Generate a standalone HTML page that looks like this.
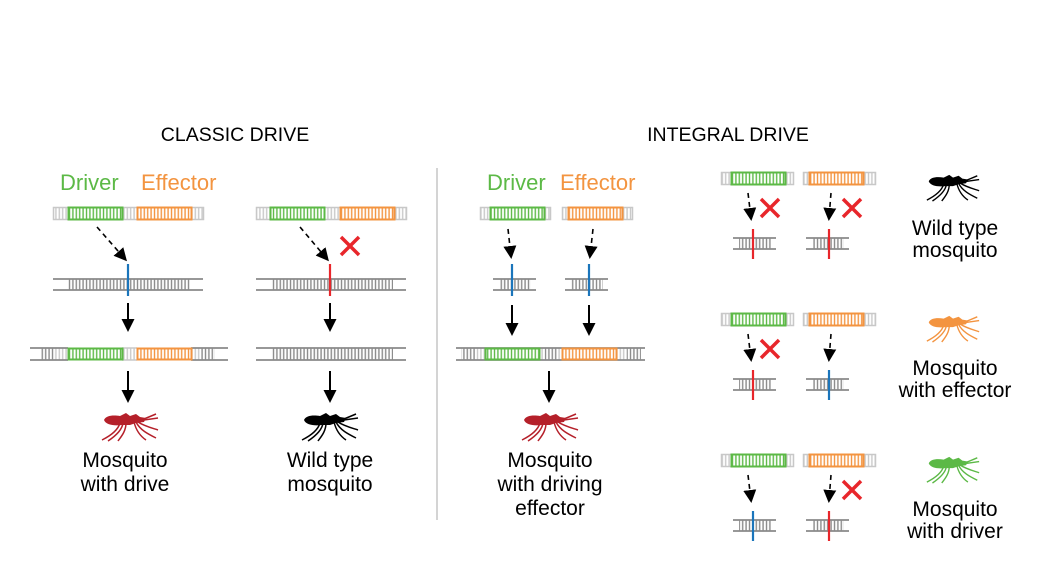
<!DOCTYPE html>
<html><head><meta charset="utf-8"><style>
html,body{margin:0;padding:0;background:#fff}
svg{display:block}
text{font-family:"Liberation Sans",sans-serif}
</style></head><body>
<svg width="1037" height="561" viewBox="0 0 1037 561" xmlns="http://www.w3.org/2000/svg">
<defs>
<pattern id="pd" width="3.4" height="40" patternUnits="userSpaceOnUse"><line x1="1.5" y1="0" x2="1.5" y2="40" stroke="#8a8a8a" stroke-width="1.4"/></pattern>
<pattern id="pl" width="3.4" height="40" patternUnits="userSpaceOnUse"><line x1="1.5" y1="0" x2="1.5" y2="40" stroke="#c8c8c8" stroke-width="1.4"/></pattern>
<pattern id="pg" width="3.4" height="40" patternUnits="userSpaceOnUse"><line x1="1.5" y1="0" x2="1.5" y2="40" stroke="#5cb946" stroke-width="1.4"/></pattern>
<pattern id="po" width="3.4" height="40" patternUnits="userSpaceOnUse"><line x1="1.5" y1="0" x2="1.5" y2="40" stroke="#f39440" stroke-width="1.4"/></pattern>
<marker id="ah2" markerWidth="13" markerHeight="13" refX="10" refY="6.5" orient="auto" markerUnits="userSpaceOnUse"><path d="M0,0 L13,6.5 L0,13 Z" fill="#000"/></marker>
<symbol id="mq" viewBox="0 0 60 32" overflow="visible">
 <path d="M4,10 C6,5 14,5 20,6 L26,3 L30,6 L36,4 L40,7 L46,8 L44,12 L36,13 L30,15 L22,15 C14,16 6,15 4,10 Z"/>
 <g fill="none" stroke="currentColor" stroke-width="1.5">
  <path d="M20,13 C18,20 10,26 2,30"/><path d="M23,13 C22,21 14,27 8,31"/><path d="M26,13 C26,22 20,28 18,31"/>
  <path d="M34,12 C36,20 40,26 46,30"/><path d="M36,12 C40,20 48,24 56,28"/><path d="M38,12 C44,16 52,18 58,20"/>
  <path d="M44,9 L56,4"/><path d="M44,10 L58,8"/>
 </g>
</symbol>
<g id="xm"><path d="M-9,-9 L9,9 M9,-9 L-9,9" stroke="#e8262b" stroke-width="3.5"/></g>
</defs>

<text x="235" y="141" font-size="19.5" text-anchor="middle">CLASSIC DRIVE</text>
<text x="728" y="141" font-size="19.5" text-anchor="middle">INTEGRAL DRIVE</text>
<line x1="437" y1="168" x2="437" y2="520" stroke="#aaa" stroke-width="1"/>

<!-- Classic col 1 -->
<text x="60" y="190" font-size="22" fill="#5cb946">Driver</text>
<text x="141" y="190" font-size="22" fill="#f39440">Effector</text>
<rect x="53.5" y="207.5" width="150" height="12" fill="url(#pl)" stroke="#c8c8c8" stroke-width="1.5"/>
<rect x="68.5" y="207.5" width="54" height="12" fill="#fff"/><rect x="68.5" y="207.5" width="54" height="12" fill="url(#pg)" stroke="#5cb946" stroke-width="2"/>
<rect x="137.5" y="207.5" width="54" height="12" fill="#fff"/><rect x="137.5" y="207.5" width="54" height="12" fill="url(#po)" stroke="#f39440" stroke-width="2"/>
<line x1="97" y1="227" x2="125" y2="259" stroke="#000" stroke-width="1.6" stroke-dasharray="5,4" marker-end="url(#ah2)"/>
<rect x="68" y="279" width="122" height="11" fill="url(#pd)"/>
<line x1="53" y1="279" x2="203" y2="279" stroke="#8a8a8a" stroke-width="1.8"/><line x1="53" y1="290" x2="203" y2="290" stroke="#8a8a8a" stroke-width="1.8"/>
<line x1="128" y1="264" x2="128" y2="296" stroke="#1b75bb" stroke-width="2.2"/>
<line x1="128" y1="303" x2="128" y2="329" stroke="#000" stroke-width="2" marker-end="url(#ah2)"/>
<rect x="40" y="348" width="15" height="12" fill="url(#pd)"/><rect x="55" y="348" width="13" height="12" fill="url(#pl)"/>
<rect x="122" y="348" width="15" height="12" fill="url(#pl)"/><rect x="191" y="348" width="9" height="12" fill="url(#pl)"/><rect x="200" y="348" width="15" height="12" fill="url(#pd)"/>
<line x1="30" y1="348" x2="68" y2="348" stroke="#8a8a8a" stroke-width="1.8"/><line x1="30" y1="360" x2="68" y2="360" stroke="#8a8a8a" stroke-width="1.8"/>
<line x1="191" y1="348" x2="228" y2="348" stroke="#8a8a8a" stroke-width="1.8"/><line x1="191" y1="360" x2="228" y2="360" stroke="#8a8a8a" stroke-width="1.8"/>
<line x1="122" y1="348" x2="137" y2="348" stroke="#c8c8c8" stroke-width="1.5"/><line x1="122" y1="360" x2="137" y2="360" stroke="#c8c8c8" stroke-width="1.5"/>
<rect x="68.5" y="348.5" width="54" height="11" fill="url(#pg)" stroke="#5cb946" stroke-width="2"/>
<rect x="137.5" y="348.5" width="54" height="11" fill="url(#po)" stroke="#f39440" stroke-width="2"/>
<line x1="128" y1="371" x2="128" y2="400" stroke="#000" stroke-width="2" marker-end="url(#ah2)"/>
<use href="#mq" x="100" y="410" width="60" height="32" fill="#b5202a" color="#b5202a"/>
<text x="125" y="467" font-size="21" text-anchor="middle">Mosquito</text>
<text x="125" y="491" font-size="21" text-anchor="middle">with drive</text>

<!-- Classic col 2 -->
<rect x="256.5" y="207.5" width="150" height="12" fill="url(#pl)" stroke="#c8c8c8" stroke-width="1.5"/>
<rect x="270.5" y="207.5" width="54" height="12" fill="#fff"/><rect x="270.5" y="207.5" width="54" height="12" fill="url(#pg)" stroke="#5cb946" stroke-width="2"/>
<rect x="340.5" y="207.5" width="54" height="12" fill="#fff"/><rect x="340.5" y="207.5" width="54" height="12" fill="url(#po)" stroke="#f39440" stroke-width="2"/>
<line x1="300" y1="227" x2="327" y2="259" stroke="#000" stroke-width="1.6" stroke-dasharray="5,4" marker-end="url(#ah2)"/>
<use href="#xm" x="350" y="246"/>
<rect x="271" y="279" width="122" height="11" fill="url(#pd)"/>
<line x1="256" y1="279" x2="406" y2="279" stroke="#8a8a8a" stroke-width="1.8"/><line x1="256" y1="290" x2="406" y2="290" stroke="#8a8a8a" stroke-width="1.8"/>
<line x1="330" y1="264" x2="330" y2="296" stroke="#e8262b" stroke-width="2.2"/>
<line x1="330" y1="303" x2="330" y2="329" stroke="#000" stroke-width="2" marker-end="url(#ah2)"/>
<rect x="271" y="348" width="122" height="12" fill="url(#pd)"/>
<line x1="256" y1="348" x2="406" y2="348" stroke="#8a8a8a" stroke-width="1.8"/><line x1="256" y1="360" x2="406" y2="360" stroke="#8a8a8a" stroke-width="1.8"/>
<line x1="330" y1="371" x2="330" y2="400" stroke="#000" stroke-width="2" marker-end="url(#ah2)"/>
<use href="#mq" x="300" y="410" width="60" height="32" fill="#000" color="#000"/>
<text x="330" y="467" font-size="21" text-anchor="middle">Wild type</text>
<text x="330" y="491" font-size="21" text-anchor="middle">mosquito</text>

<!-- Integral middle -->
<text x="487" y="190" font-size="22" fill="#5cb946">Driver</text>
<text x="560" y="190" font-size="22" fill="#f39440">Effector</text>
<rect x="480.5" y="207.5" width="70" height="12" fill="url(#pl)" stroke="#c8c8c8" stroke-width="1.5"/>
<rect x="490.5" y="207.5" width="54" height="12" fill="#fff"/><rect x="490.5" y="207.5" width="54" height="12" fill="url(#pg)" stroke="#5cb946" stroke-width="2"/>
<rect x="562.5" y="207.5" width="70" height="12" fill="url(#pl)" stroke="#c8c8c8" stroke-width="1.5"/>
<rect x="568.5" y="207.5" width="54" height="12" fill="#fff"/><rect x="568.5" y="207.5" width="54" height="12" fill="url(#po)" stroke="#f39440" stroke-width="2"/>
<line x1="508" y1="229" x2="511" y2="256" stroke="#000" stroke-width="1.6" stroke-dasharray="5,4" marker-end="url(#ah2)"/>
<line x1="593" y1="229" x2="590" y2="256" stroke="#000" stroke-width="1.6" stroke-dasharray="5,4" marker-end="url(#ah2)"/>
<rect x="499" y="279" width="32" height="11" fill="url(#pd)"/>
<line x1="493" y1="279" x2="536" y2="279" stroke="#8a8a8a" stroke-width="1.8"/><line x1="493" y1="290" x2="536" y2="290" stroke="#8a8a8a" stroke-width="1.8"/>
<line x1="512" y1="264" x2="512" y2="296" stroke="#1b75bb" stroke-width="2.2"/>
<rect x="571" y="279" width="32" height="11" fill="url(#pd)"/>
<line x1="565" y1="279" x2="608" y2="279" stroke="#8a8a8a" stroke-width="1.8"/><line x1="565" y1="290" x2="608" y2="290" stroke="#8a8a8a" stroke-width="1.8"/>
<line x1="589" y1="264" x2="589" y2="296" stroke="#1b75bb" stroke-width="2.2"/>
<line x1="512" y1="305" x2="512" y2="333" stroke="#000" stroke-width="2" marker-end="url(#ah2)"/>
<line x1="589" y1="305" x2="589" y2="333" stroke="#000" stroke-width="2" marker-end="url(#ah2)"/>
<rect x="461" y="348" width="14" height="12" fill="url(#pd)"/><rect x="475" y="348" width="10" height="12" fill="url(#pl)"/>
<rect x="540" y="348" width="5" height="12" fill="url(#pl)"/><rect x="545" y="348" width="12" height="12" fill="url(#pd)"/><rect x="557" y="348" width="5" height="12" fill="url(#pl)"/>
<rect x="617" y="348" width="10" height="12" fill="url(#pl)"/><rect x="627" y="348" width="14" height="12" fill="url(#pd)"/>
<line x1="456" y1="348" x2="645" y2="348" stroke="#8a8a8a" stroke-width="1.8"/><line x1="456" y1="360" x2="645" y2="360" stroke="#8a8a8a" stroke-width="1.8"/>
<rect x="485.5" y="348.5" width="54" height="11" fill="#fff"/><rect x="485.5" y="348.5" width="54" height="11" fill="url(#pg)" stroke="#5cb946" stroke-width="2"/>
<rect x="562.5" y="348.5" width="54" height="11" fill="#fff"/><rect x="562.5" y="348.5" width="54" height="11" fill="url(#po)" stroke="#f39440" stroke-width="2"/>
<line x1="549" y1="371" x2="549" y2="400" stroke="#000" stroke-width="2" marker-end="url(#ah2)"/>
<use href="#mq" x="520" y="410" width="60" height="32" fill="#b5202a" color="#b5202a"/>
<text x="550" y="467" font-size="21" text-anchor="middle">Mosquito</text>
<text x="550" y="491" font-size="21" text-anchor="middle">with driving</text>
<text x="550" y="515" font-size="21" text-anchor="middle">effector</text>

<!-- Right rows -->
<g id="row">
<rect x="721.5" y="172.5" width="72" height="12" fill="url(#pl)" stroke="#c8c8c8" stroke-width="1.5"/>
<rect x="731.5" y="172.5" width="54" height="12" fill="#fff"/><rect x="731.5" y="172.5" width="54" height="12" fill="url(#pg)" stroke="#5cb946" stroke-width="2"/>
<rect x="803.5" y="172.5" width="72" height="12" fill="url(#pl)" stroke="#c8c8c8" stroke-width="1.5"/>
<rect x="809.5" y="172.5" width="54" height="12" fill="#fff"/><rect x="809.5" y="172.5" width="54" height="12" fill="url(#po)" stroke="#f39440" stroke-width="2"/>
<line x1="748" y1="193" x2="751" y2="218" stroke="#000" stroke-width="1.6" stroke-dasharray="5,4" marker-end="url(#ah2)"/>
<line x1="831" y1="193" x2="829" y2="218" stroke="#000" stroke-width="1.6" stroke-dasharray="5,4" marker-end="url(#ah2)"/>
<rect x="739" y="238" width="32" height="11" fill="url(#pd)"/>
<line x1="733" y1="238" x2="776" y2="238" stroke="#8a8a8a" stroke-width="1.8"/><line x1="733" y1="249" x2="776" y2="249" stroke="#8a8a8a" stroke-width="1.8"/>
<rect x="812" y="238" width="32" height="11" fill="url(#pd)"/>
<line x1="806" y1="238" x2="849" y2="238" stroke="#8a8a8a" stroke-width="1.8"/><line x1="806" y1="249" x2="849" y2="249" stroke="#8a8a8a" stroke-width="1.8"/>
</g>
<use href="#row" y="141"/>
<use href="#row" y="282"/>

<!-- row 1 -->
<line x1="753" y1="229" x2="753" y2="259" stroke="#e8262b" stroke-width="2.2"/>
<line x1="829" y1="229" x2="829" y2="259" stroke="#e8262b" stroke-width="2.2"/>
<use href="#xm" x="770" y="208"/><use href="#xm" x="852" y="208"/>
<use href="#mq" x="925" y="172" width="56" height="30" fill="#000" color="#000"/>
<text x="955" y="235" font-size="21" text-anchor="middle">Wild type</text>
<text x="955" y="257" font-size="21" text-anchor="middle">mosquito</text>
<!-- row 2 -->
<line x1="753" y1="370" x2="753" y2="400" stroke="#e8262b" stroke-width="2.2"/>
<line x1="829" y1="370" x2="829" y2="400" stroke="#1b75bb" stroke-width="2.2"/>
<use href="#xm" x="770" y="349"/>
<use href="#mq" x="925" y="313" width="56" height="30" fill="#f39440" color="#f39440"/>
<text x="955" y="375" font-size="21" text-anchor="middle">Mosquito</text>
<text x="955" y="397" font-size="21" text-anchor="middle">with effector</text>
<!-- row 3 -->
<line x1="753" y1="511" x2="753" y2="541" stroke="#1b75bb" stroke-width="2.2"/>
<line x1="829" y1="511" x2="829" y2="541" stroke="#e8262b" stroke-width="2.2"/>
<use href="#xm" x="852" y="490"/>
<use href="#mq" x="925" y="454" width="56" height="30" fill="#5cb946" color="#5cb946"/>
<text x="955" y="516" font-size="21" text-anchor="middle">Mosquito</text>
<text x="955" y="538" font-size="21" text-anchor="middle">with driver</text>
</svg>
</body></html>
